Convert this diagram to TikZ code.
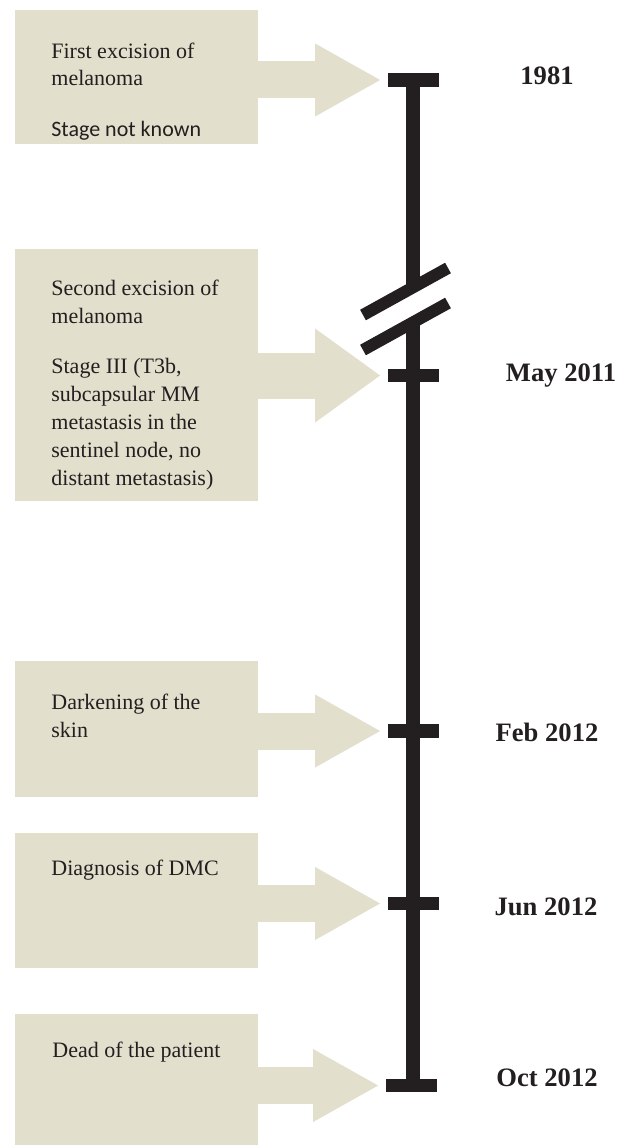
\documentclass[tikz,border=0pt]{standalone}
\usepackage{fontspec}
\setmainfont{Liberation Serif}
\newfontfamily\calibri{Carlito}
\usepackage{tikz}
\usetikzlibrary{arrows.meta,calc,positioning}
\definecolor{boxtan}{RGB}{226,223,205}
\definecolor{lineblk}{RGB}{35,31,32}
\tikzset{
    x=0.5pt, y=-0.5pt,
    evbox/.style ={fill=boxtan, anchor=north west, minimum width=121.5pt, inner sep=0pt},
    evtext/.style={anchor=base west, align=left, inner sep=0pt, text=lineblk,
                   font=\fontsize{11}{14}\selectfont},
    tick/.style ={fill=lineblk, minimum width=25.5pt, minimum height=6.75pt, inner sep=0pt},
    date/.style ={text=lineblk, inner sep=0pt, font=\fontsize{13.3}{16}\selectfont\bfseries},
    evarrow/.style={draw=boxtan, line width=18.5pt, shorten >=3.5pt, shorten <=-1pt,
                    -{Triangle[length=32.5pt, width=36.5pt, line width=0pt]}},
    bigarrow/.style={evarrow, line width=23pt,
                    -{Triangle[length=32.5pt, width=47pt, line width=0pt]}},
    axis/.style ={draw=lineblk, line width=7pt},
    cut/.style  ={draw=lineblk, line width=6pt}
}

\begin{document}
\begin{tikzpicture}
    \useasboundingbox (0,0) rectangle (632,1145);

    % event boxes
    \node[evbox, minimum height=67pt]   (box1) at (15,10) {};
    \node[evbox, minimum height=126pt]  (box2) at (15,249) {};
    \node[evbox, minimum height=68pt]   (box3) at (15,661) {};
    \node[evbox, minimum height=67.5pt] (box4) at (15,833) {};
    \node[evbox, minimum height=65.5pt] (box5) at (15,1014) {};

    % texts, placed at the baseline of their last line
    \node[evtext] (txt1) at (51,136) {First excision of\\melanoma\\[11pt]{\calibri Stage not known}};
    \node[evtext] (txt2) at (51,485) {Second excision of\\melanoma\\[11pt]Stage III (T3b,\\subcapsular MM\\metastasis in the\\sentinel node, no\\distant metastasis)};
    \node[evtext] (txt3) at (51,737) {Darkening of the\\skin};
    \node[evtext] (txt4) at (51,875) {Diagnosis of DMC};
    \node[evtext] (txt5) at (52,1057) {Dead of the patient};

    % time line
    \coordinate (cut1) at (413,285);
    \coordinate (cut2) at (413,322);
    \draw[axis] (413,80) -- (cut1);
    \draw[axis] (cut2) -- (413,1085.5);
    \draw[cut] (363,315) -- (448,268);
    \draw[cut] (363,350) -- (448,303);

    \node[tick] (t1981) at (413,80) {};
    \node[tick] (tmay)  at (413,375.5) {};
    \node[tick] (tfeb)  at (413,731) {};
    \node[tick] (tjun)  at (413,903.5) {};
    \node[tick] (toct)  at (411,1085.5) {};

    \node[date] (d1981) at (547,76) {1981};
    \node[date] (dmay)  at (561,376) {May 2011};
    \node[date] (dfeb)  at (547,732) {Feb 2012};
    \node[date] (djun)  at (546,907) {Jun 2012};
    \node[date] (doct)  at (547,1078) {Oct 2012};

    % arrows
    \draw[evarrow]  (box1.east |- t1981) -- (t1981);
    \draw[bigarrow] (box2.east |- tmay) -- (tmay);
    \draw[evarrow]  (box3.east |- tfeb) -- (tfeb);
    \draw[evarrow]  (box4.east |- tjun) -- (tjun);
    \draw[evarrow]  (box5.east |- toct) -- (toct);
\end{tikzpicture}
\end{document}
